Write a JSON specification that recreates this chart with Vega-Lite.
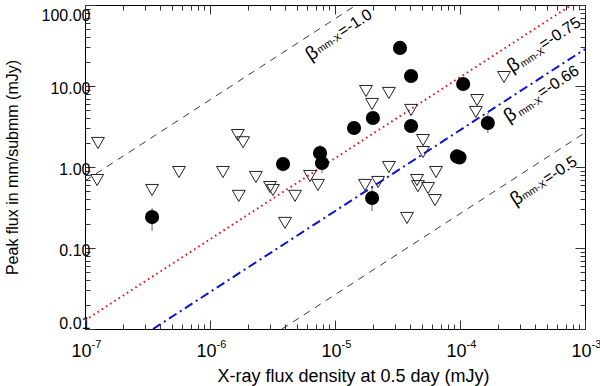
{
  "$schema": "https://vega.github.io/schema/vega-lite/v6.json",
  "width": 500,
  "height": 324,
  "autosize": {"type": "none"},
  "padding": {"left": 85, "top": 5, "right": 15, "bottom": 57},
  "background": "white",
  "config": {
    "view": {"stroke": "#000", "strokeWidth": 1},
    "font": "Liberation Sans",
    "axis": {"grid": false, "domain": false, "labelFont": "Liberation Sans", "titleFont": "Liberation Sans", "labelColor": "#000", "titleColor": "#000", "titleFontWeight": "normal", "tickColor": "#333", "tickWidth": 1}
  },
  "datasets": {
    "det": [
      {"x": 3.44e-7, "y": 0.241, "lo": 0.162, "hi": 0.312},
      {"x": 3.84e-6, "y": 1.09, "lo": 0.88, "hi": 1.33},
      {"x": 7.59e-6, "y": 1.49, "lo": 1.2, "hi": 1.87},
      {"x": 7.87e-6, "y": 1.12, "lo": 0.84, "hi": 1.4},
      {"x": 1.42e-5, "y": 3.03},
      {"x": 2.01e-5, "y": 4.03},
      {"x": 3.31e-5, "y": 29.5},
      {"x": 4.06e-5, "y": 13.3},
      {"x": 4.06e-5, "y": 3.21},
      {"x": 1.98e-5, "y": 0.414, "lo": 0.286, "hi": 0.55},
      {"x": 1.06e-4, "y": 10.6},
      {"x": 1.67e-4, "y": 3.49, "lo": 2.63, "hi": 4.6},
      {"x": 9.46e-5, "y": 1.35},
      {"x": 9.91e-5, "y": 1.31}
    ],
    "ul": [
      {"x": 1.27e-7, "y": 1.98},
      {"x": 1.25e-7, "y": 0.69},
      {"x": 3.44e-7, "y": 0.52},
      {"x": 5.65e-7, "y": 0.867},
      {"x": 1.27e-6, "y": 0.867},
      {"x": 1.67e-6, "y": 2.48},
      {"x": 1.84e-6, "y": 2.02},
      {"x": 1.70e-6, "y": 0.44},
      {"x": 2.33e-6, "y": 0.753},
      {"x": 3.02e-6, "y": 0.566},
      {"x": 3.19e-6, "y": 0.52},
      {"x": 4.79e-6, "y": 0.44},
      {"x": 3.98e-6, "y": 0.204},
      {"x": 6.31e-6, "y": 0.774},
      {"x": 7.31e-6, "y": 0.60},
      {"x": 1.77e-5, "y": 8.67},
      {"x": 2.70e-5, "y": 8.2},
      {"x": 1.98e-5, "y": 6.0},
      {"x": 4.06e-5, "y": 5.06},
      {"x": 2.70e-5, "y": 1.0},
      {"x": 1.74e-5, "y": 0.60},
      {"x": 2.21e-5, "y": 0.653},
      {"x": 5.06e-5, "y": 2.15},
      {"x": 5.06e-5, "y": 1.53},
      {"x": 6.43e-5, "y": 0.867},
      {"x": 4.53e-5, "y": 0.69},
      {"x": 4.61e-5, "y": 0.58},
      {"x": 5.55e-5, "y": 0.55},
      {"x": 6.31e-5, "y": 0.39},
      {"x": 3.77e-5, "y": 0.235},
      {"x": 2.25e-4, "y": 12.9},
      {"x": 1.37e-4, "y": 6.7},
      {"x": 1.34e-4, "y": 4.78}
    ],
    "lines": [
      {"line": "b1", "x": 1e-7, "y": 0.675},
      {"line": "b1", "x": 1.48e-5, "y": 100},
      {"line": "r", "x": 1e-7, "y": 0.0128},
      {"line": "r", "x": 7.8e-4, "y": 100},
      {"line": "bl", "x": 3.5e-7, "y": 0.01},
      {"line": "bl", "x": 1e-3, "y": 28.5},
      {"line": "b2", "x": 3.77e-6, "y": 0.01},
      {"line": "b2", "x": 1e-3, "y": 2.65}
    ],
    "lab": [
      {"k": "b", "t": "β", "x": 6.51e-6, "y": 25.3},
      {"k": "s", "t": "mm-X", "x": 8.99e-6, "y": 33.6},
      {"k": "m", "t": "=-1.0", "x": 1.445e-5, "y": 59.9},
      {"k": "b", "t": "β", "x": 2.67e-4, "y": 18.2},
      {"k": "s", "t": "mm-X", "x": 3.80e-4, "y": 22.4},
      {"k": "m", "t": "=-0.75", "x": 6.31e-4, "y": 44.7},
      {"k": "b", "t": "β", "x": 2.51e-4, "y": 4.39},
      {"k": "s", "t": "mm-X", "x": 3.645e-4, "y": 5.55},
      {"k": "m", "t": "=-0.66", "x": 6.11e-4, "y": 11.3},
      {"k": "b", "t": "β", "x": 2.84e-4, "y": 0.411},
      {"k": "s", "t": "mm-X", "x": 3.92e-4, "y": 0.519},
      {"k": "m", "t": "=-0.5", "x": 6.31e-4, "y": 0.918}
    ],
    "xt": [
      {"x": 1e-7, "e": "-7"},
      {"x": 1e-6, "e": "-6"},
      {"x": 1e-5, "e": "-5"},
      {"x": 1e-4, "e": "-4"},
      {"x": 1e-3, "e": "-3"}
    ]
  },
  "layer": [
    {
      "data": {"name": "lines"},
      "transform": [{"filter": "datum.line == 'b1'"}],
      "mark": {"type": "line", "color": "#222", "strokeWidth": 0.9, "strokeDash": [7, 6]},
      "encoding": {
        "x": {"field": "x", "type": "quantitative", "scale": {"type": "log", "domain": [1e-7, 1e-3], "nice": false},
          "axis": {"orient": "bottom", "labels": false,
            "values": [1e-7,2e-7,3e-7,4e-7,5e-7,6e-7,7e-7,8e-7,9e-7,1e-6,2e-6,3e-6,4e-6,5e-6,6e-6,7e-6,8e-6,9e-6,1e-5,2e-5,3e-5,4e-5,5e-5,6e-5,7e-5,8e-5,9e-5,1e-4,2e-4,3e-4,4e-4,5e-4,6e-4,7e-4,8e-4,9e-4,1e-3],
            "tickSize": {"condition": {"test": "abs(log(datum.value)/LN10 - round(log(datum.value)/LN10)) < 0.001", "value": -9}, "value": -5},
            "title": "X-ray flux density at 0.5 day (mJy)", "titleFontSize": 18, "titleX": 268, "titleY": 52, "titleBaseline": "alphabetic", "titleAlign": "center"}},
        "y": {"field": "y", "type": "quantitative", "scale": {"type": "log", "domain": [0.01, 100], "nice": false},
          "axis": {"orient": "left",
            "values": [0.01,0.02,0.03,0.04,0.05,0.06,0.07,0.08,0.09,0.1,0.2,0.3,0.4,0.5,0.6,0.7,0.8,0.9,1,2,3,4,5,6,7,8,9,10,20,30,40,50,60,70,80,90,100],
            "tickSize": {"condition": {"test": "abs(log(datum.value)/LN10 - round(log(datum.value)/LN10)) < 0.001", "value": -10}, "value": -5},
            "labelExpr": "abs(log(datum.value)/LN10 - round(log(datum.value)/LN10)) < 0.001 ? format(datum.value, '.2f') : ''",
            "labelFontSize": 16, "labelPadding": 5, "labelFlush": true, "labelOverlap": false, "labelOffset": 2,
            "title": "Peak flux in mm/submm (mJy)", "titleFontSize": 16, "titleAngle": -90, "titleX": -68, "titleY": 162, "titleBaseline": "alphabetic", "titleAlign": "center"}}
      }
    },
    {
      "data": {"name": "lines"},
      "transform": [{"filter": "datum.line == 'r'"}],
      "mark": {"type": "line", "color": "#e8141c", "strokeWidth": 2, "strokeDash": [1.6, 3.4]},
      "encoding": {
        "x": {"field": "x", "type": "quantitative", "scale": {"type": "log", "domain": [1e-7, 1e-3], "nice": false},
          "axis": {"orient": "top", "labels": false, "title": null,
            "values": [1e-7,2e-7,3e-7,4e-7,5e-7,6e-7,7e-7,8e-7,9e-7,1e-6,2e-6,3e-6,4e-6,5e-6,6e-6,7e-6,8e-6,9e-6,1e-5,2e-5,3e-5,4e-5,5e-5,6e-5,7e-5,8e-5,9e-5,1e-4,2e-4,3e-4,4e-4,5e-4,6e-4,7e-4,8e-4,9e-4,1e-3],
            "tickSize": {"condition": {"test": "abs(log(datum.value)/LN10 - round(log(datum.value)/LN10)) < 0.001", "value": -9}, "value": -5}}},
        "y": {"field": "y", "type": "quantitative", "scale": {"type": "log", "domain": [0.01, 100], "nice": false},
          "axis": {"orient": "right", "labels": false, "title": null,
            "values": [0.01,0.02,0.03,0.04,0.05,0.06,0.07,0.08,0.09,0.1,0.2,0.3,0.4,0.5,0.6,0.7,0.8,0.9,1,2,3,4,5,6,7,8,9,10,20,30,40,50,60,70,80,90,100],
            "tickSize": {"condition": {"test": "abs(log(datum.value)/LN10 - round(log(datum.value)/LN10)) < 0.001", "value": -10}, "value": -5}}}
      }
    },
    {
      "data": {"name": "lines"},
      "transform": [{"filter": "datum.line == 'bl'"}],
      "mark": {"type": "line", "color": "#0a14d2", "strokeWidth": 2, "strokeDash": [9, 4, 2, 4]},
      "encoding": {
        "x": {"field": "x", "type": "quantitative", "scale": {"type": "log", "domain": [1e-7, 1e-3], "nice": false}, "axis": null},
        "y": {"field": "y", "type": "quantitative", "scale": {"type": "log", "domain": [0.01, 100], "nice": false}, "axis": null}
      }
    },
    {
      "data": {"name": "lines"},
      "transform": [{"filter": "datum.line == 'b2'"}],
      "mark": {"type": "line", "color": "#222", "strokeWidth": 0.9, "strokeDash": [7, 6]},
      "encoding": {
        "x": {"field": "x", "type": "quantitative", "scale": {"type": "log", "domain": [1e-7, 1e-3], "nice": false}, "axis": null},
        "y": {"field": "y", "type": "quantitative", "scale": {"type": "log", "domain": [0.01, 100], "nice": false}, "axis": null}
      }
    },
    {
      "data": {"name": "ul"},
      "mark": {"type": "point", "shape": "triangle-down", "filled": false, "stroke": "#222", "strokeWidth": 1, "size": 165, "opacity": 1},
      "encoding": {
        "x": {"field": "x", "type": "quantitative", "scale": {"type": "log", "domain": [1e-7, 1e-3], "nice": false}, "axis": null},
        "y": {"field": "y", "type": "quantitative", "scale": {"type": "log", "domain": [0.01, 100], "nice": false}, "axis": null}
      }
    },
    {
      "data": {"name": "det"},
      "transform": [{"filter": "datum.lo != null"}],
      "mark": {"type": "rule", "color": "#888", "strokeWidth": 1.3},
      "encoding": {
        "x": {"field": "x", "type": "quantitative", "scale": {"type": "log", "domain": [1e-7, 1e-3], "nice": false}, "axis": null},
        "y": {"field": "lo", "type": "quantitative", "scale": {"type": "log", "domain": [0.01, 100], "nice": false}, "axis": null},
        "y2": {"field": "hi"}
      }
    },
    {
      "data": {"name": "det"},
      "mark": {"type": "point", "shape": "circle", "filled": true, "color": "#000", "size": 200, "opacity": 1},
      "encoding": {
        "x": {"field": "x", "type": "quantitative", "scale": {"type": "log", "domain": [1e-7, 1e-3], "nice": false}, "axis": null},
        "y": {"field": "y", "type": "quantitative", "scale": {"type": "log", "domain": [0.01, 100], "nice": false}, "axis": null}
      }
    },
    {
      "data": {"name": "lab"},
      "transform": [{"filter": "datum.k == 'b'"}],
      "mark": {"type": "text", "angle": -33, "align": "center", "baseline": "middle", "fontSize": 19, "font": "Liberation Sans", "color": "#000"},
      "encoding": {
        "x": {"field": "x", "type": "quantitative", "scale": {"type": "log", "domain": [1e-7, 1e-3], "nice": false}, "axis": null},
        "y": {"field": "y", "type": "quantitative", "scale": {"type": "log", "domain": [0.01, 100], "nice": false}, "axis": null},
        "text": {"field": "t"}
      }
    },
    {
      "data": {"name": "lab"},
      "transform": [{"filter": "datum.k == 's'"}],
      "mark": {"type": "text", "angle": -33, "align": "center", "baseline": "middle", "fontSize": 10, "font": "Liberation Sans", "color": "#000"},
      "encoding": {
        "x": {"field": "x", "type": "quantitative", "scale": {"type": "log", "domain": [1e-7, 1e-3], "nice": false}, "axis": null},
        "y": {"field": "y", "type": "quantitative", "scale": {"type": "log", "domain": [0.01, 100], "nice": false}, "axis": null},
        "text": {"field": "t"}
      }
    },
    {
      "data": {"name": "lab"},
      "transform": [{"filter": "datum.k == 'm'"}],
      "mark": {"type": "text", "angle": -33, "align": "center", "baseline": "middle", "fontSize": 16, "font": "Liberation Sans", "color": "#000"},
      "encoding": {
        "x": {"field": "x", "type": "quantitative", "scale": {"type": "log", "domain": [1e-7, 1e-3], "nice": false}, "axis": null},
        "y": {"field": "y", "type": "quantitative", "scale": {"type": "log", "domain": [0.01, 100], "nice": false}, "axis": null},
        "text": {"field": "t"}
      }
    },
    {
      "data": {"name": "xt"},
      "mark": {"type": "text", "align": "right", "baseline": "alphabetic", "dx": 6.5, "dy": 28, "fontSize": 18, "font": "Liberation Sans", "color": "#000"},
      "encoding": {
        "x": {"field": "x", "type": "quantitative", "scale": {"type": "log", "domain": [1e-7, 1e-3], "nice": false}, "axis": null},
        "y": {"datum": 0.01, "type": "quantitative", "scale": {"type": "log", "domain": [0.01, 100], "nice": false}, "axis": null},
        "text": {"value": "10"}
      }
    },
    {
      "data": {"name": "xt"},
      "mark": {"type": "text", "align": "left", "baseline": "alphabetic", "dx": 6.5, "dy": 19, "fontSize": 11, "font": "Liberation Sans", "color": "#000"},
      "encoding": {
        "x": {"field": "x", "type": "quantitative", "scale": {"type": "log", "domain": [1e-7, 1e-3], "nice": false}, "axis": null},
        "y": {"datum": 0.01, "type": "quantitative", "scale": {"type": "log", "domain": [0.01, 100], "nice": false}, "axis": null},
        "text": {"field": "e"}
      }
    }
  ],
  "resolve": {"axis": {"x": "independent", "y": "independent"}}
}
